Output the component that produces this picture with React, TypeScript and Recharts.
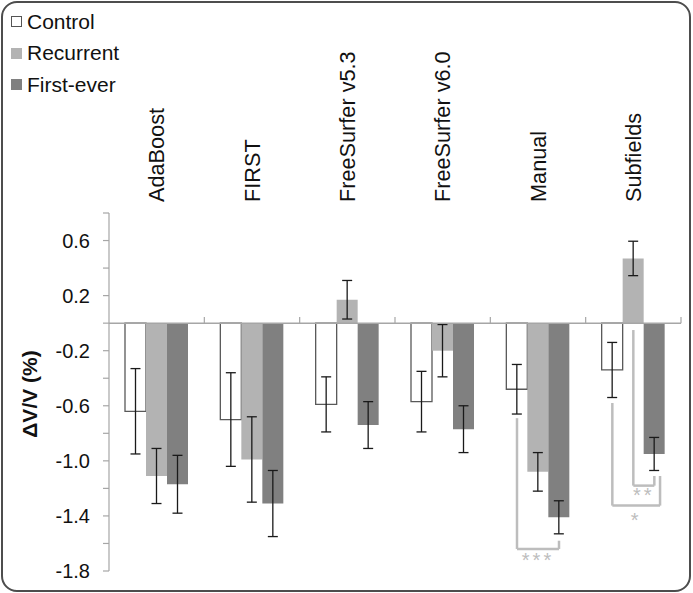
import {
  BarChart,
  Bar,
  XAxis,
  YAxis,
  ErrorBar,
  ReferenceLine,
  ReferenceDot,
  Legend,
} from "recharts";

const categories = ["AdaBoost", "FIRST", "FreeSurfer v5.3", "FreeSurfer v6.0", "Manual", "Subfields"];

const controlMean = [-0.64, -0.7, -0.59, -0.57, -0.48, -0.34];
const controlErr = [0.31, 0.34, 0.2, 0.22, 0.18, 0.2];
const recurrentMean = [-1.11, -0.99, 0.17, -0.2, -1.08, 0.47];
const recurrentErr = [0.2, 0.31, 0.14, 0.19, 0.14, 0.125];
const firstEverMean = [-1.17, -1.31, -0.74, -0.77, -1.41, -0.95];
const firstEverErr = [0.21, 0.24, 0.17, 0.17, 0.12, 0.12];

const seriesNames = ["Control", "Recurrent", "First-ever"];
const seriesFills = ["#ffffff", "#b3b3b3", "#808080"];

const yTicks = [0.8, 0.6, 0.4, 0.2, 0, -0.2, -0.4, -0.6, -0.8, -1.0, -1.2, -1.4, -1.6, -1.8];
const yLabelled = [0.6, 0.2, -0.2, -0.6, -1.0, -1.4, -1.8];

// significance brackets: series index 0 control, 1 recurrent, 2 first-ever
const brackets = [
  { category: 4, from: 0, to: 2, toNudge: 0, fromTop: -0.69, toTop: -1.58, bottom: -1.64, label: "***", labelY: -1.69 },
  { category: 5, from: 1, to: 2, toNudge: 0, fromTop: -0.05, toTop: -1.11, bottom: -1.18, label: "**", labelY: -1.218 },
  { category: 5, from: 0, to: 2, toNudge: 0.06, fromTop: -0.58, toTop: -1.11, bottom: -1.325, label: "*", labelY: -1.393 },
];

const data = categories.map((name, i) => ({
  name,
  idx: i,
  control: controlMean[i],
  controlErr: controlErr[i],
  recurrent: recurrentMean[i],
  recurrentErr: recurrentErr[i],
  firstEver: firstEverMean[i],
  firstEverErr: firstEverErr[i],
}));

const FONT = '"Liberation Sans", Arial, sans-serif';
const W = 693;
const H = 593;
const MARGIN = { top: 10, right: 12, bottom: 22, left: 0 };
const Y_AXIS_W = 109;
const BAR_SIZE = 21;
const BAND_PX = (W - MARGIN.right - Y_AXIS_W) / categories.length;
const AXIS_GRAY = "#a6a6a6";
const SIG_GRAY = "#bdbdbd";

const slot = (cat: number, series: number, nudge = 0) =>
  cat + 0.5 + ((series - 1) * BAR_SIZE) / BAND_PX + nudge;

function YTick({ x, y, payload }: any) {
  const v = payload.value as number;
  if (!yLabelled.some((l) => Math.abs(l - v) < 1e-6)) return null;
  return (
    <text x={x} y={y} textAnchor="end" dominantBaseline="central" fontSize={20} fontFamily={FONT} fill="#111">
      {v.toFixed(1)}
    </text>
  );
}

function CategoryTick({ x, y, payload }: any) {
  return (
    <text
      x={x}
      y={y}
      dy="0.36em"
      transform={`rotate(-90 ${x} ${y})`}
      textAnchor="start"
      fontSize={21.7}
      fontFamily={FONT}
      fill="#111"
    >
      {payload.value}
    </text>
  );
}

function YLabel({ viewBox }: any) {
  const cx = viewBox.x + 29;
  const cy = viewBox.y + viewBox.height / 2 + 2;
  return (
    <text
      transform={`translate(${cx} ${cy}) rotate(-90)`}
      textAnchor="middle"
      dominantBaseline="central"
      fontSize={21}
      fontWeight="bold"
      fontFamily={FONT}
      fill="#111"
    >
      ΔV/V (%)
    </text>
  );
}

function LegendBox() {
  return (
    <div style={{ paddingTop: 6, paddingLeft: 11, fontFamily: FONT, fontSize: 21, color: "#111" }}>
      {seriesNames.map((name, i) => (
        <div key={name} style={{ height: 31.5, display: "flex", alignItems: "center" }}>
          <span
            style={{
              display: "inline-block",
              width: 11,
              height: 11,
              boxSizing: "border-box",
              background: seriesFills[i],
              border: i === 0 ? "1px solid #555" : "none",
              marginRight: 5,
            }}
          />
          {name}
        </div>
      ))}
    </div>
  );
}

function StarLabel({ cx, cy, text }: any) {
  return (
    <text x={cx} y={cy} dy="0.58em" textAnchor="middle" fontSize={20} letterSpacing={3} fontFamily={FONT} fill={SIG_GRAY}>
      {text}
    </text>
  );
}

export default function App() {
  return (
    <div style={{ position: "absolute", left: 0, top: 0, width: W, height: H, background: "#fff" }}>
      <BarChart width={W} height={H} data={data} margin={MARGIN} barSize={BAR_SIZE} barGap={0}>
        <XAxis dataKey="name" hide />
        <XAxis
          xAxisId="top"
          dataKey="name"
          orientation="top"
          height={203}
          axisLine={false}
          tickLine={false}
          tickSize={0}
          tickMargin={11}
          interval={0}
          tick={<CategoryTick />}
        />
        <XAxis xAxisId="n" dataKey="idx" type="number" domain={[0, 6]} allowDataOverflow hide />
        <YAxis
          width={Y_AXIS_W}
          domain={[-1.8, 0.8]}
          ticks={yTicks}
          interval={0}
          allowDataOverflow
          axisLine={{ stroke: AXIS_GRAY, strokeWidth: 1.2 }}
          tickLine={{ stroke: AXIS_GRAY, strokeWidth: 1.2 }}
          tickSize={6}
          tickMargin={13}
          tick={<YTick />}
          label={{ content: <YLabel /> }}
        />
        <Legend
          layout="vertical"
          align="center"
          verticalAlign="middle"
          wrapperStyle={{ left: 0, top: 0 }}
          content={<LegendBox />}
        />
        <Bar dataKey="control" name={seriesNames[0]} fill={seriesFills[0]} stroke="#595959" strokeWidth={1.3} isAnimationActive={false}>
          <ErrorBar dataKey="controlErr" width={5} stroke="#1a1a1a" strokeWidth={1.3} direction="y" />
        </Bar>
        <Bar dataKey="recurrent" name={seriesNames[1]} fill={seriesFills[1]} isAnimationActive={false}>
          <ErrorBar dataKey="recurrentErr" width={5} stroke="#1a1a1a" strokeWidth={1.3} direction="y" />
        </Bar>
        <Bar dataKey="firstEver" name={seriesNames[2]} fill={seriesFills[2]} isAnimationActive={false}>
          <ErrorBar dataKey="firstEverErr" width={5} stroke="#1a1a1a" strokeWidth={1.3} direction="y" />
        </Bar>
        <ReferenceLine y={0} stroke={AXIS_GRAY} strokeWidth={1.5} />
        {categories.map((_, i) => (
          <ReferenceLine
            key={`ct${i}`}
            xAxisId="n"
            segment={[
              { x: i + 1, y: 0 },
              { x: i + 1, y: 0.045 },
            ]}
            stroke={AXIS_GRAY}
            strokeWidth={1.2}
            ifOverflow="visible"
          />
        ))}
        {brackets.map((b, i) => {
          const x1 = slot(b.category, b.from);
          const x2 = slot(b.category, b.to, b.toNudge);
          return [
            <ReferenceLine
              key={`bl${i}`}
              xAxisId="n"
              segment={[
                { x: x1, y: b.fromTop },
                { x: x1, y: b.bottom },
              ]}
              stroke={SIG_GRAY}
              strokeWidth={2.5}
            />,
            <ReferenceLine
              key={`bb${i}`}
              xAxisId="n"
              segment={[
                { x: x1, y: b.bottom },
                { x: x2, y: b.bottom },
              ]}
              stroke={SIG_GRAY}
              strokeWidth={2.5}
            />,
            <ReferenceLine
              key={`br${i}`}
              xAxisId="n"
              segment={[
                { x: x2, y: b.toTop },
                { x: x2, y: b.bottom },
              ]}
              stroke={SIG_GRAY}
              strokeWidth={2.5}
            />,
            <ReferenceDot
              key={`bt${i}`}
              xAxisId="n"
              x={(x1 + x2) / 2}
              y={b.labelY}
              r={0}
              shape={(p: any) => <StarLabel cx={p.cx} cy={p.cy} text={b.label} />}
            />,
          ];
        })}
      </BarChart>
      <div
        style={{
          position: "absolute",
          left: 1,
          top: 1,
          width: 690,
          height: 591,
          boxSizing: "border-box",
          border: "2px solid #4d4d4d",
          borderRadius: 16,
          pointerEvents: "none",
        }}
      />
    </div>
  );
}
